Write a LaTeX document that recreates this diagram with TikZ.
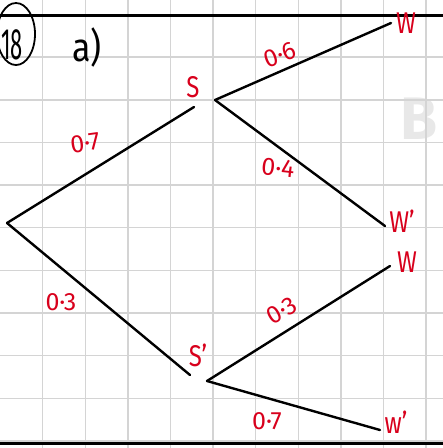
\documentclass[tikz,border=0pt]{standalone}
\usepackage{fontspec}
\setmainfont{Fira Sans}
\usepackage{tikz}
\usetikzlibrary{shapes.geometric}
\definecolor{ink}{HTML}{D8001C}
\definecolor{paper}{HTML}{D4D4D4}

\begin{document}
\begin{tikzpicture}[x=1pt,y=-1pt,
  prob/.style={text=ink,font=\fontsize{25}{27}\selectfont,inner sep=0pt},
  evt/.style={text=ink,font=\fontsize{30}{32}\selectfont,inner sep=0pt,xscale=0.8,transform shape},
  br/.style={line width=2.4pt,line cap=round}]
\useasboundingbox (0,0) rectangle (443,448);
% faint letter at the right edge
\node[text=black!9,font=\bfseries\fontsize{60}{60}\selectfont,inner sep=0pt,anchor=west] (tab) at (400,119) {B};
% squared paper
\foreach \i in {1,...,10}{
  \draw[paper,line width=1.4pt] (42.6*\i,0) -- (42.6*\i,448);
  \draw[paper,line width=1.4pt] (0,14.5+42.65*\i) -- (443,14.5+42.65*\i);}
\draw[line width=3pt] (0,15) -- (443,15);
\draw[line width=3pt] (0,443) -- (443,443);
% question number
\node[draw,ellipse,line width=1.8pt,minimum width=38pt,minimum height=62pt,inner sep=0pt] (qnum) at (16,34) {};
\node[font=\fontsize{44}{44}\selectfont,inner sep=0pt,xscale=0.5,transform shape] (qtxt) at (12,45) {18};
\node[font=\fontsize{40}{40}\selectfont,inner sep=0pt,xscale=0.85,transform shape] (part) at (87,47) {a)};
% tree
\coordinate (root) at (7,223);
\coordinate (sIn) at (194,107);
\coordinate (s) at (215,100);
\coordinate (sdIn) at (190,375);
\coordinate (sd) at (207,381);
\coordinate (w1) at (391,23);
\coordinate (w1d) at (385,226);
\coordinate (w2) at (390,266);
\coordinate (w2d) at (380,430);
\draw[br] (root) -- (sIn);
\draw[br] (root) -- (sdIn);
\draw[br] (s) -- (w1);
\draw[br] (s) -- (w1d);
\draw[br] (sd) -- (w2);
\draw[br] (sd) -- (w2d);
% events
\node[evt] (lS) at (193,87) {S};
\node[evt] (lSd) at (198,355) {S'};
\node[evt] (lW1) at (406,23) {W};
\node[evt] (lW1d) at (402,221) {W'};
\node[evt] (lW2) at (407,262) {W};
\node[evt] (lW2d) at (396,422) {w'};
% probabilities
\node[prob,rotate=8] (p1) at (85,143) {0·7};
\node[prob] (p2) at (61,302) {0·3};
\node[prob,rotate=20] (p3) at (280,55) {0·6};
\node[prob,rotate=-6] (p4) at (278,168) {0·4};
\node[prob,rotate=30] (p5) at (282,311) {0·3};
\node[prob] (p6) at (267,421) {0·7};
\end{tikzpicture}
\end{document}
